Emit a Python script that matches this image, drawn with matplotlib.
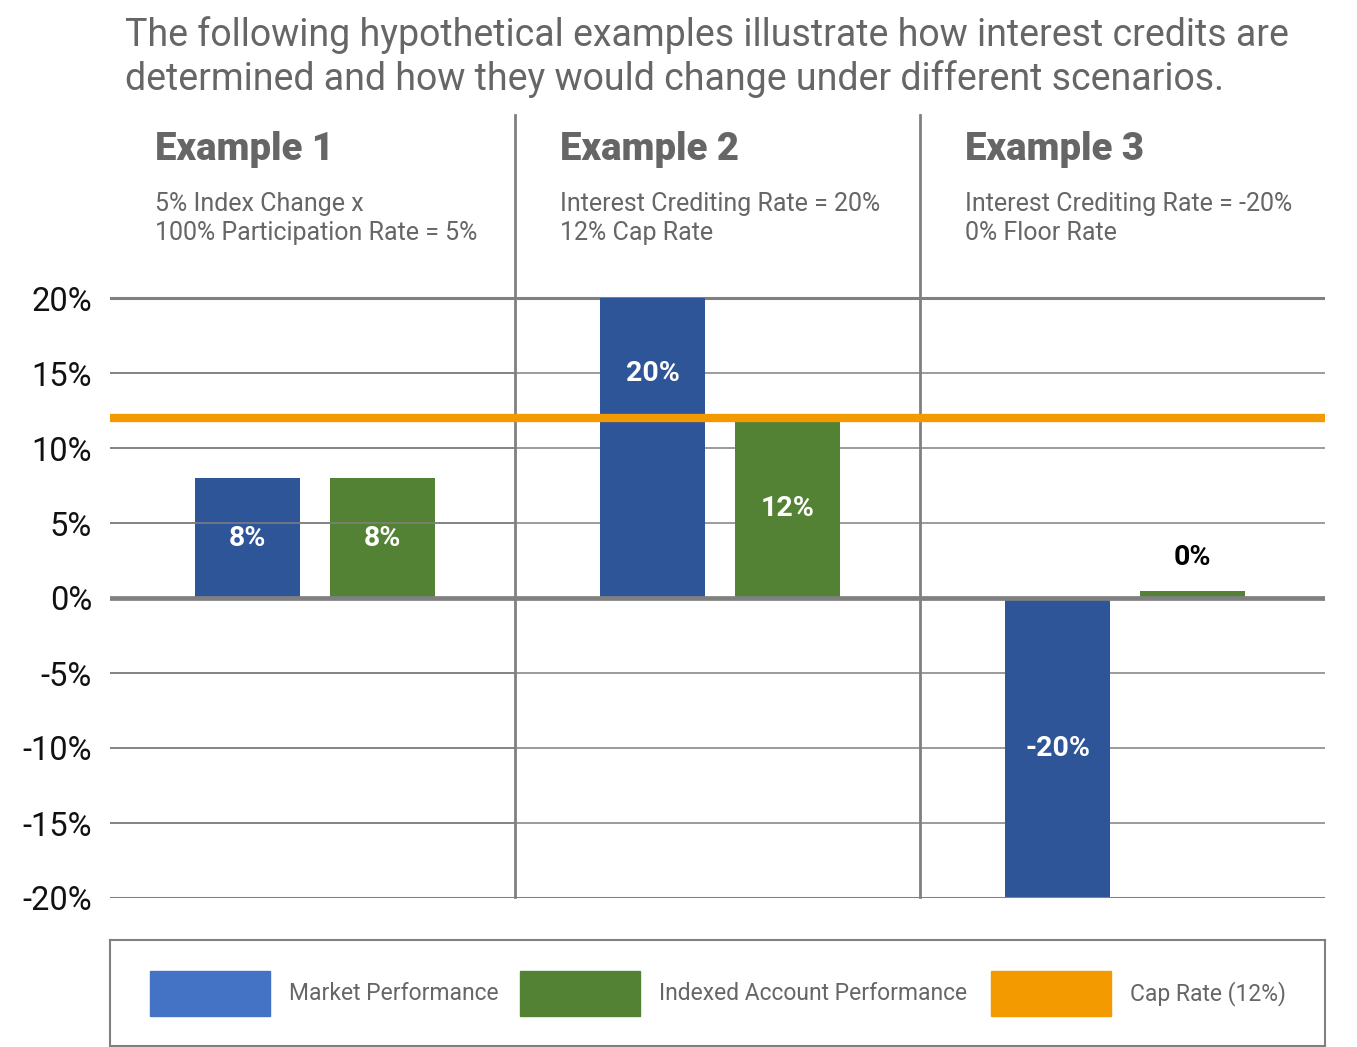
import matplotlib
matplotlib.use("Agg")
import matplotlib.pyplot as plt
from matplotlib.patches import Rectangle

plt.rcParams['font.family'] = ['Roboto', 'DejaVu Sans']

# data
examples = ["Example 1", "Example 2", "Example 3"]
notes = ["5% Index Change x\n100% Participation Rate = 5%",
         "Interest Crediting Rate = 20%\n12% Cap Rate",
         "Interest Crediting Rate = -20%\n0% Floor Rate"]
market = [8, 20, -20]
indexed = [8, 12, 0]
cap_rate = 12
yticks = [-20, -15, -10, -5, 0, 5, 10, 15, 20]
legend_labels = ["Market Performance", "Indexed Account Performance", "Cap Rate (12%)"]

blue = "#2E5597"
green = "#548235"
orange = "#F29A00"
gray = "#808080"
text_gray = "#666666"

W, H = 1357, 1047
fig = plt.figure(figsize=(W / 100, H / 100), dpi=100)

def box(x0, y0, x1, y1):
    return [x0 / W, 1 - y1 / H, (x1 - x0) / W, (y1 - y0) / H]

ax = fig.add_axes(box(110, 115, 1325, 898))
ax.set_xlim(0, 3)
ax.set_ylim(-20, 32.2)
for s in ax.spines.values():
    s.set_visible(False)
ax.set_xticks([])
ax.set_yticks(yticks)
ax.set_yticklabels([f"{t}%" for t in yticks], fontsize=23.5, color="#111111")
ax.tick_params(axis="y", length=0, pad=13)

# gridlines
for t in yticks:
    if t == 0:
        ax.axhline(t, color=gray, lw=3.4, zorder=3)
    elif abs(t) == 20:
        ax.axhline(t, color=gray, lw=2.2, zorder=3 if t < 0 else 1)
    else:
        ax.axhline(t, color=gray, lw=1.1, zorder=1)
        # in the first panel the grid sits on top of the bars
        ax.plot([0, 1], [t, t], color=gray, lw=1.1, zorder=2.5)

# separators
for i in range(1, len(examples)):
    ax.plot([i, i], [-19.9, 32.2], color=gray, lw=2, zorder=1, clip_on=False)

width = 0.259
off = 0.1667
centers = [i + 0.507 for i in range(len(examples))]

for c, m, v in zip(centers, market, indexed):
    ax.bar(c - off, m, width, color=blue, zorder=2)
    ly = m / 2 if abs(m / 2 - cap_rate) > 3 else m * 0.75
    ax.text(c - off, ly, f"{m}%", ha="center", va="center", color="white",
            fontsize=20.5, fontweight="bold", zorder=4)
    h = v if v != 0 else 0.45
    ax.bar(c + off, h, width, color=green, zorder=2)
    if v != 0:
        ax.text(c + off, v / 2, f"{v}%", ha="center", va="center", color="white",
                fontsize=20.5, fontweight="bold", zorder=4)
    else:
        ax.text(c + off, 2.7, f"{v}%", ha="center", va="center", color="black",
                fontsize=20.5, fontweight="bold", zorder=4)

ax.axhline(cap_rate, color=orange, lw=6, zorder=3.5)

for i, (ex, note) in enumerate(zip(examples, notes)):
    ax.text(i + 0.11, 29.9, ex, ha="left", va="center", fontsize=27.5,
            fontweight="black", color=text_gray)
    ax.text(i + 0.11, 25.3, note, ha="left", va="center", fontsize=18,
            color=text_gray, linespacing=1.3)

fig.text(125 / W, 1 - 57 / H,
         "The following hypothetical examples illustrate how interest credits are\n"
         "determined and how they would change under different scenarios.",
         ha="left", va="center", fontsize=27, color=text_gray, linespacing=1.2)

# legend box
lax = fig.add_axes(box(110, 940, 1325, 1046))
lax.set_xlim(0, 1215)
lax.set_ylim(0, 106)
lax.set_xticks([])
lax.set_yticks([])
for s in lax.spines.values():
    s.set_color(gray)
    s.set_linewidth(1.5)
leg_colors = ["#4472C4", green, orange]
leg_x = [40, 410, 881]
for x, col, lab in zip(leg_x, leg_colors, legend_labels):
    lax.add_patch(Rectangle((x, 30), 120, 45, color=col))
    lax.text(x + 139, 52, lab, ha="left", va="center", fontsize=16.5, color=text_gray)

fig.savefig("out.png", dpi=100)
